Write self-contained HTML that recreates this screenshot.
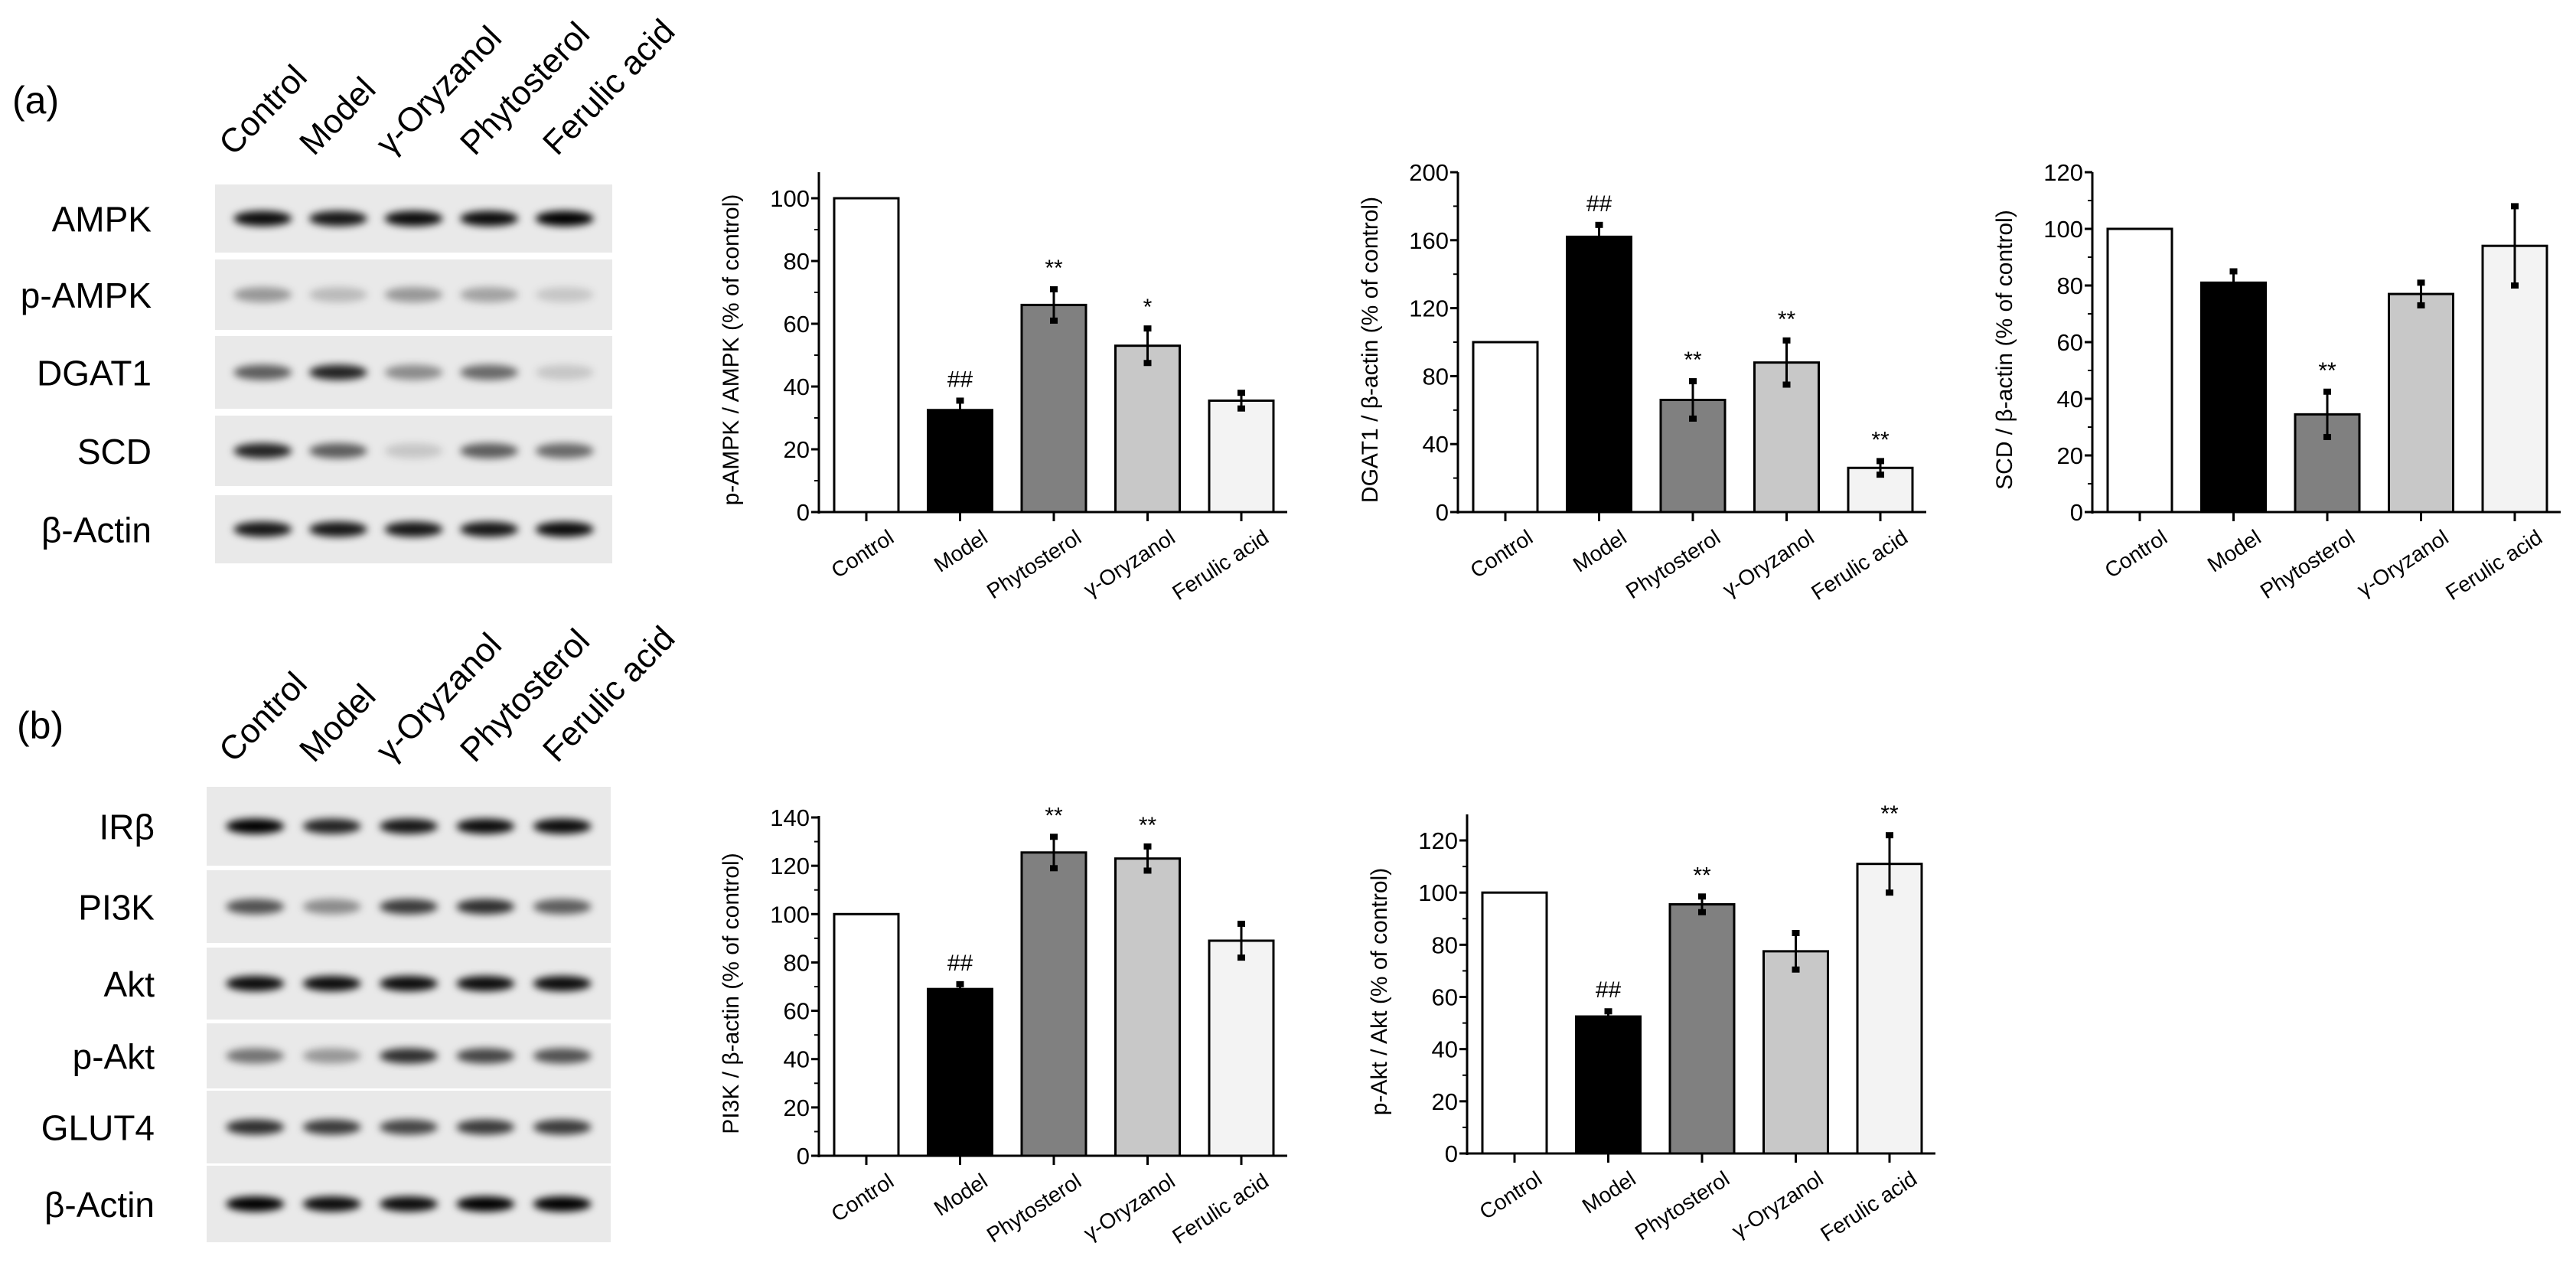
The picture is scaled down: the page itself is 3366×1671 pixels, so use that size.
<!DOCTYPE html>
<html><head><meta charset="utf-8"><style>
html,body{margin:0;padding:0;background:#fff;}
svg{display:block;font-family:"Liberation Sans",Arial,sans-serif;}
</style></head><body>
<svg id="fig" width="3366" height="1671" viewBox="0 0 3366 1671" xmlns="http://www.w3.org/2000/svg">
<defs><filter id="blur" x="-20%" y="-50%" width="140%" height="200%"><feGaussianBlur stdDeviation="5"/></filter></defs>
<g id="blots"></g>
<g id="charts"></g>
</svg>
<script>
const NS="http://www.w3.org/2000/svg";
const categories=["Control","Model","Phytosterol","γ-Oryzanol","Ferulic acid"];
const fills=["#ffffff","#000000","#808080","#c8c8c8","#f3f3f3"];
const ampkValues=[100,32.5,66,53,35.5];
const ampkErrors=[0,3,5,5.5,2.5];
const ampkMarks=["","##","**","*",""];
const dgatValues=[100,162,66,88,26];
const dgatErrors=[0,7,11,13,4];
const dgatMarks=["","##","**","**","**"];
const scdValues=[100,81,34.5,77,94];
const scdErrors=[0,4,8,4,14];
const scdMarks=["","","**","",""];
const pi3kValues=[100,69,125.5,123,89];
const pi3kErrors=[0,2,6.5,5,7];
const pi3kMarks=["","##","**","**",""];
const aktValues=[100,52.5,95.5,77.5,111];
const aktErrors=[0,2,3,7,11];
const aktMarks=["","##","**","","**"];
const laneLabels=["Control","Model","γ-Oryzanol","Phytosterol","Ferulic acid"];
const blotRowsA=["AMPK","p-AMPK","DGAT1","SCD","β-Actin"];
const blotRowsB=["IRβ","PI3K","Akt","p-Akt","GLUT4","β-Actin"];
const bandA=[[0.95,0.9,0.95,0.95,1],[0.35,0.2,0.35,0.3,0.15],[0.6,0.85,0.4,0.55,0.15],[0.85,0.6,0.15,0.6,0.55],[0.9,0.9,0.9,0.9,0.95]];
const bandB=[[1,0.85,0.9,0.95,0.95],[0.65,0.4,0.75,0.8,0.6],[0.95,0.95,0.95,0.95,0.95],[0.5,0.35,0.8,0.7,0.65],[0.8,0.75,0.7,0.75,0.75],[1,0.95,0.95,1,1]];

function el(tag,attrs,parent,txt){const e=document.createElementNS(NS,tag);for(const k in attrs)e.setAttribute(k,attrs[k]);if(txt!==undefined)e.textContent=txt;parent.appendChild(e);return e;}
const charts=document.getElementById('charts');
const blots=document.getElementById('blots');

function chart(o){
  const g=el('g',{},charts);
  
  
  const yScale=v=>o.y0-(v/o.max)*(o.y0-o.yMax);
  const xC=i=>o.ax+62+i*122.5;
  const ya=el('line',{x1:o.ax,y1:o.axTop,x2:o.ax,y2:o.y0+2,stroke:'#000','stroke-width':3},g);
  
  
  for(let v=0;v<=o.max;v+=o.step){
    const y=yScale(v);
    el('line',{x1:o.ax-10,y1:y,x2:o.ax,y2:y,stroke:'#000','stroke-width':3},g);
    const t=el('text',{x:o.ax-12,y:y+11,'text-anchor':'end','font-size':31},g,String(v));
    
    
    const ym=yScale(v+o.step/2);
    if(ym>=o.axTop) el('line',{x1:o.ax-6,y1:ym,x2:o.ax,y2:ym,stroke:'#000','stroke-width':2},g);
  }
  const tt=el('text',{x:0,y:0,'text-anchor':'middle','font-size':30,transform:`translate(${o.ax-105},${(o.y0+o.axTop)/2+10}) rotate(-90)`},g,o.title);
  
  
  o.values.forEach((v,i)=>{
    const cx=xC(i),top=yScale(v);
    const b=el('rect',{x:cx-42,y:top,width:84,height:o.y0-top,fill:fills[i],stroke:'#000','stroke-width':3},g);
    
    
    let hi=top;
    if(o.errors[i]>0){
      const y1=yScale(v+o.errors[i]),y2=yScale(v-o.errors[i]);hi=y1;
      const eb=el('line',{x1:cx,y1:y1,x2:cx,y2:y2,stroke:'#000','stroke-width':3},g);
      
      
      el('rect',{x:cx-5,y:y1-4,width:10,height:8,fill:'#000'},g);
      el('rect',{x:cx-5,y:y2-4,width:10,height:8,fill:'#000'},g);
    }
    if(o.marks[i]){
      const m=el('text',{x:cx,y:hi-18,'text-anchor':'middle','font-size':30},g,o.marks[i]);
      
      
    }
    el('line',{x1:cx,y1:o.y0,x2:cx,y2:o.y0+12,stroke:'#000','stroke-width':3},g);
    const cl=el('text',{x:0,y:0,'text-anchor':'end','font-size':28,transform:`translate(${cx+38},${o.y0+38}) rotate(-33)`},g,categories[i]);
    
    
  });
  const xa=el('line',{x1:o.ax,y1:o.y0,x2:o.ax+612,y2:o.y0,stroke:'#000','stroke-width':3},g);
  
  
}
chart({name:'p-ampk-chart',ax:1070,y0:669,yMax:259,max:100,axTop:225,step:20,values:ampkValues,errors:ampkErrors,marks:ampkMarks,title:'p-AMPK / AMPK (% of control)'});
chart({name:'dgat1-chart',ax:1905,y0:669,yMax:225,max:200,axTop:225,step:40,values:dgatValues,errors:dgatErrors,marks:dgatMarks,title:'DGAT1 / β-actin (% of control)'});
chart({name:'scd-chart',ax:2734,y0:669,yMax:225,max:120,axTop:225,step:20,values:scdValues,errors:scdErrors,marks:scdMarks,title:'SCD / β-actin (% of control)'});
chart({name:'pi3k-chart',ax:1070,y0:1510,yMax:1068,max:140,axTop:1066,step:20,values:pi3kValues,errors:pi3kErrors,marks:pi3kMarks,title:'PI3K / β-actin (% of control)'});
chart({name:'p-akt-chart',ax:1917,y0:1507,yMax:1098,max:120,axTop:1064,step:20,values:aktValues,errors:aktErrors,marks:aktMarks,title:'p-Akt / Akt (% of control)'});

function blot(o){
  const g=el('g',{},blots);
  
  
  const lab=el('text',{x:o.lx,y:o.ly,'font-size':50},g,o.letter);
  
  
  o.lanesX.forEach((x,i)=>{
    const t=el('text',{x:0,y:0,'font-size':44,transform:`translate(${x},${o.hy}) rotate(-46)`},g,laneLabels[i]);
    
    
  });
  o.rows.forEach((r,ri)=>{
    const [y1,y2]=o.ys[ri];
    const p=el('rect',{x:o.x1,y:y1,width:o.x2-o.x1,height:y2-y1,fill:'#e9e9e9'},g);
    
    
    const cy=(y1+y2)/2;
    o.bands[ri].forEach((a,li)=>{
      const cx=o.x1+(o.x2-o.x1)*(0.12+li*0.19);
      el('ellipse',{cx:cx,cy:cy,rx:38,ry:10,fill:'#000','fill-opacity':a,filter:'url(#blur)'},g);
    });
    const t=el('text',{x:o.rlx,y:cy+17,'text-anchor':'end','font-size':46},g,r);
    
    
  });
}
blot({name:'western-blot-a',letter:'(a)',lx:16,ly:148,x1:281,x2:800,rlx:198,hy:205,lanesX:[305,410,510,620,728],rows:blotRowsA,bands:bandA,
  ys:[[241,330],[339,431],[439,534],[543,635],[647,736]]});
blot({name:'western-blot-b',letter:'(b)',lx:22,ly:965,x1:270,x2:798,rlx:202,hy:998,lanesX:[305,410,510,620,728],rows:blotRowsB,bands:bandB,
  ys:[[1028,1131],[1137,1232],[1238,1332],[1337,1422],[1425,1520],[1523,1623]]});
</script>
</body></html>
